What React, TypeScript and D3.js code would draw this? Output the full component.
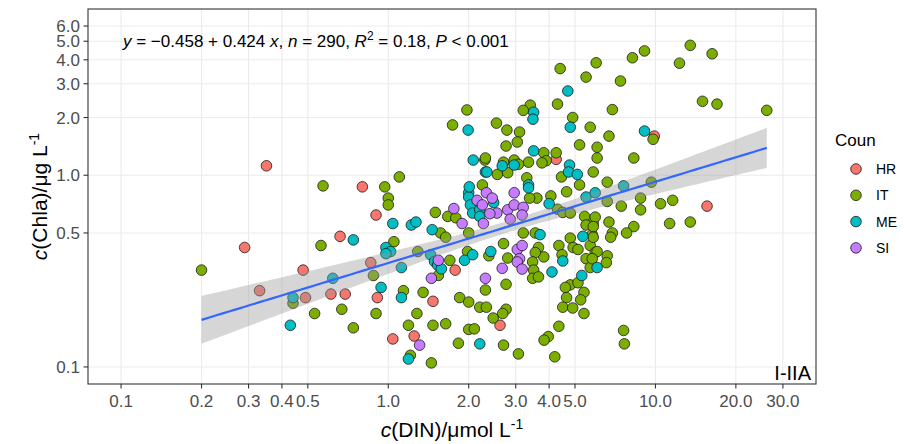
import React from 'react';
import * as d3 from 'd3';

// ---- data: [DIN (µmol/L), Chla (µg/L)] per country ----
const HR_PTS: [number, number][] = [
  [0.29, 0.42], [0.33, 0.25], [0.35, 1.12], [0.48, 0.32], [0.49, 0.23], [0.61, 0.24], [0.66, 0.48],
  [0.69, 0.24], [0.8, 0.87], [0.86, 0.35], [0.9, 0.62], [0.91, 0.23], [1.04, 0.14], [1.25, 0.145],
  [1.47, 0.22], [1.78, 0.32], [4.25, 1.21], [9.9, 1.6], [2.62, 0.165], [15.6, 0.69],
];
const IT_PTS: [number, number][] = [
  [0.2, 0.32], [0.44, 0.215], [0.53, 0.19], [0.57, 0.88], [0.56, 0.43], [0.67, 0.2], [0.74, 0.16],
  [0.9, 0.19], [0.88, 0.3], [0.97, 0.87], [1.0, 0.76], [1.0, 0.7], [1.05, 0.45], [1.1, 0.98],
  [1.14, 0.25], [1.19, 0.165], [1.21, 0.115], [1.45, 0.105], [1.5, 0.64], [1.57, 0.5], [1.64, 0.475],
  [1.67, 0.61], [1.79, 0.6], [2.0, 0.5], [1.29, 0.4], [1.7, 0.36], [1.54, 0.3], [1.98, 0.4],
  [1.35, 0.245], [1.28, 0.19], [1.47, 0.165], [1.64, 0.168], [1.85, 0.23], [2.0, 0.218], [2.2, 0.205],
  [2.33, 0.205], [2.31, 0.252], [2.0, 0.157], [2.1, 0.158], [1.83, 0.133], [1.97, 2.19], [1.74, 1.83],
  [2.3, 1.2], [2.25, 0.89],
  [6.0, 3.86], [4.4, 3.6], [5.5, 3.25], [4.3, 2.35], [3.4, 2.32], [3.2, 2.18], [4.9, 2.0], [5.7, 1.78],
  [2.54, 1.87], [2.78, 1.72], [3.1, 1.68], [3.04, 1.49], [2.76, 1.42], [5.2, 1.44], [6.05, 1.4],
  [3.82, 1.31], [4.25, 1.31], [3.9, 1.19], [3.76, 1.16], [2.31, 1.23], [3.35, 1.17], [2.7, 1.17],
  [2.96, 1.2], [3.07, 1.14], [2.56, 1.01], [2.8, 1.03], [4.45, 0.98], [6.05, 1.23], [5.85, 1.04],
  [3.3, 0.97], [5.2, 0.89], [4.65, 0.82], [4.06, 0.78], [3.6, 0.76], [3.38, 0.76],
  [13.5, 4.76], [16.3, 4.3], [9.1, 4.45], [8.2, 4.1], [12.3, 3.84], [7.4, 3.1], [15.0, 2.43],
  [17.0, 2.35], [26.1, 2.18], [6.9, 2.2], [6.7, 1.6], [9.8, 1.54], [8.3, 1.23], [6.6, 0.92],
  [9.65, 0.92], [8.8, 0.76], [11.6, 0.74],
  [4.3, 0.665], [4.5, 0.64], [4.8, 0.635], [5.43, 0.61], [5.85, 0.56], [5.5, 0.55], [3.2, 0.5],
  [3.55, 0.5], [2.7, 0.44], [2.38, 0.38], [3.65, 0.42], [3.82, 0.375], [3.55, 0.395], [4.35, 0.43],
  [4.8, 0.47], [4.92, 0.42], [5.13, 0.41], [5.7, 0.43], [5.8, 0.49], [4.47, 0.385], [5.95, 0.395],
  [5.5, 0.367], [5.7, 0.33], [2.8, 0.37], [3.47, 0.353], [3.5, 0.32], [3.47, 0.29], [3.65, 0.295],
  [2.76, 0.27], [4.8, 0.268], [4.6, 0.26], [5.13, 0.275], [5.4, 0.245], [5.25, 0.224], [4.65, 0.23],
  [4.5, 0.205], [4.9, 0.203], [5.4, 0.19], [2.76, 0.2], [2.68, 0.19], [2.47, 0.18], [4.35, 0.163],
  [3.97, 0.144], [3.83, 0.138], [2.7, 0.13], [3.07, 0.117], [4.2, 0.113],
  [6.6, 0.73], [7.45, 0.69], [8.8, 0.66], [10.45, 0.71], [5.95, 0.605], [5.85, 0.54], [6.7, 0.57],
  [5.85, 0.475], [6.9, 0.5], [6.8, 0.475], [8.3, 0.54], [7.8, 0.5], [11.3, 0.56], [13.5, 0.57],
  [6.05, 0.4], [6.6, 0.38], [6.55, 0.35], [5.8, 0.367], [7.6, 0.155], [7.65, 0.132],
];
const ME_PTS: [number, number][] = [
  [0.44, 0.23], [0.43, 0.165], [0.62, 0.29], [0.74, 0.46], [0.94, 0.26], [0.98, 0.42], [1.02, 0.4],
  [0.98, 0.39], [1.04, 0.56], [1.12, 0.33], [1.12, 0.23], [1.19, 0.11], [1.22, 0.55], [1.27, 0.57],
  [1.46, 0.52], [2.0, 0.81], [2.0, 0.77], [2.03, 0.7], [2.07, 0.635], [2.2, 0.66], [2.2, 0.61],
  [1.44, 0.385], [1.49, 0.355], [1.53, 0.34], [1.58, 0.325], [1.93, 0.36], [2.07, 0.385], [2.2, 0.132],
  [1.99, 1.72], [2.08, 1.2], [2.31, 1.04], [2.01, 0.87],
  [4.7, 2.75], [3.5, 2.13], [3.48, 1.96], [4.8, 1.78], [3.5, 1.34], [2.67, 1.12], [2.96, 1.13],
  [2.34, 1.04], [4.77, 1.13], [4.73, 1.04], [5.1, 1.01], [3.35, 0.89], [3.35, 0.86], [5.5, 0.77],
  [5.95, 0.81], [9.1, 1.7], [7.6, 0.88], [2.48, 0.72], [4.0, 0.71], [3.7, 0.49], [2.42, 0.4],
  [5.35, 0.48], [4.5, 0.357], [4.1, 0.313], [6.05, 0.33], [5.3, 0.3],
];
const SI_PTS: [number, number][] = [
  [1.31, 0.13], [1.76, 0.67], [1.89, 0.56], [2.15, 0.74], [2.25, 0.7], [2.27, 0.56], [1.54, 0.36],
  [1.45, 0.29], [2.31, 0.29], [2.33, 0.81], [2.45, 0.76], [2.96, 0.81], [2.55, 0.635], [2.4, 0.63],
  [2.8, 0.66], [2.96, 0.7], [3.2, 0.68], [3.17, 0.62], [2.86, 0.59], [3.04, 0.41], [3.17, 0.43],
  [3.1, 0.367], [3.04, 0.353], [3.17, 0.324], [2.67, 0.327],
];

const COUNTRIES = ['HR', 'IT', 'ME', 'SI'];
const COLORS = ['#F8766D', '#7CAE00', '#00BFC4', '#C77CFF'];
const SERIES = [HR_PTS, IT_PTS, ME_PTS, SI_PTS];

const X_TICKS = [0.1, 0.2, 0.3, 0.4, 0.5, 1, 2, 3, 4, 5, 10, 20, 30];
const Y_TICKS = [0.1, 0.5, 1, 2, 3, 4, 5, 6];
const X_LIMITS = [0.1, 30];
const Y_LIMITS = [0.1, 6];

// regression in log10 space
const FIT_INTERCEPT = -0.458;
const FIT_SLOPE = 0.424;
const FIT_N = 290;
const FIT_R2 = 0.18;
// 95% CI half-width (log10 units): sqrt(CI_A^2 + CI_B^2 (logx - CI_XMEAN)^2)
const CI_XMEAN = 0.46;
const CI_A = 0.03;
const CI_B = 0.1045;

const FONT = "'Liberation Sans', Arial, Helvetica, sans-serif";

function expandLog(lim: number[], f = 0.05) {
  const a = Math.log10(lim[0]);
  const b = Math.log10(lim[1]);
  const e = (b - a) * f;
  return [Math.pow(10, a - e), Math.pow(10, b + e)];
}

export default function App() {
  React.useEffect(() => {
    document.body.style.margin = '0';
  }, []);
  const W = 904;
  const H = 444;
  const L = 88, R = 816, T = 9, B = 384;
  const x = d3.scaleLog().domain(expandLog(X_LIMITS)).range([L, R]);
  const y = d3.scaleLog().domain(expandLog(Y_LIMITS)).range([B, T]);
  const fmt = d3.format('.1f');

  const allX = SERIES.flat().map((p) => p[0]);
  const lx0 = Math.log10(d3.min(allX) as number);
  const lx1 = Math.log10(d3.max(allX) as number);
  const grid = d3.range(0, 81).map((i) => lx0 + ((lx1 - lx0) * i) / 80);
  const fitRows = grid.map((lx) => {
    const ly = FIT_INTERCEPT + FIT_SLOPE * lx;
    const hw = Math.sqrt(CI_A * CI_A + CI_B * CI_B * (lx - CI_XMEAN) * (lx - CI_XMEAN));
    return { x: Math.pow(10, lx), y: Math.pow(10, ly), lo: Math.pow(10, ly - hw), hi: Math.pow(10, ly + hw) };
  });
  const area = d3
    .area<any>()
    .x((d) => x(d.x))
    .y0((d) => y(d.lo))
    .y1((d) => y(d.hi));
  const line = d3
    .line<any>()
    .x((d) => x(d.x))
    .y((d) => y(d.y));

  const legendY0 = 169;
  const legendStep = 26.3;

  return (
    <svg width={W} height={H} style={{ display: 'block', background: '#fff' }} fontFamily={FONT}>
      <rect x={0} y={0} width={W} height={H} fill="#fff" />
      {/* grid */}
      {X_TICKS.map((t) => (
        <line key={'gx' + t} x1={x(t)} x2={x(t)} y1={T} y2={B} stroke="#EBEBEB" strokeWidth={1.1} />
      ))}
      {Y_TICKS.map((t) => (
        <line key={'gy' + t} x1={L} x2={R} y1={y(t)} y2={y(t)} stroke="#EBEBEB" strokeWidth={1.1} />
      ))}
      {/* points */}
      {SERIES.map((pts, si) =>
        pts.map((p, i) => (
          <circle
            key={si + '-' + i}
            cx={x(p[0])}
            cy={y(p[1])}
            r={5.3}
            fill={COLORS[si]}
            stroke="#1a1a1a"
            strokeWidth={0.8}
          />
        ))
      )}
      {/* ribbon + line */}
      <path d={area(fitRows) || ''} fill="#999999" fillOpacity={0.4} stroke="none" />
      <path d={line(fitRows) || ''} fill="none" stroke="#3366FF" strokeWidth={2.2} />
      {/* border */}
      <rect x={L} y={T} width={R - L} height={B - T} fill="none" stroke="#333333" strokeWidth={1.1} />
      {/* x axis ticks */}
      {X_TICKS.map((t) => (
        <g key={'xt' + t}>
          <line x1={x(t)} x2={x(t)} y1={B} y2={B + 4.5} stroke="#333333" strokeWidth={1.1} />
          <text x={x(t)} y={407} textAnchor="middle" fontSize={17} fill="#4D4D4D">
            {fmt(t)}
          </text>
        </g>
      ))}
      {Y_TICKS.map((t) => (
        <g key={'yt' + t}>
          <line x1={L - 4.5} x2={L} y1={y(t)} y2={y(t)} stroke="#333333" strokeWidth={1.1} />
          <text x={80} y={y(t) + 6} textAnchor="end" fontSize={17} fill="#4D4D4D">
            {fmt(t)}
          </text>
        </g>
      ))}
      {/* axis titles */}
      <text x={(L + R) / 2} y={437} textAnchor="middle" fontSize={21} fill="#000">
        <tspan fontStyle="italic">c</tspan>
        <tspan>(DIN)/μmol L</tspan>
        <tspan dy={-8} fontSize={14}>-1</tspan>
      </text>
      <text
        transform={`translate(47,${(T + B) / 2}) rotate(-90)`}
        textAnchor="middle"
        fontSize={21}
        fill="#000"
      >
        <tspan fontStyle="italic">c</tspan>
        <tspan>(Chla)/μg L</tspan>
        <tspan dy={-8} fontSize={14}>-1</tspan>
      </text>
      {/* equation */}
      <text x={123} y={47} fontSize={17} fill="#000">
        <tspan fontStyle="italic">y</tspan>
        <tspan>{` = \u2212${Math.abs(FIT_INTERCEPT).toFixed(3)} + ${FIT_SLOPE.toFixed(3)} `}</tspan>
        <tspan fontStyle="italic">x</tspan>
        <tspan>{', '}</tspan>
        <tspan fontStyle="italic">n</tspan>
        <tspan>{` = ${FIT_N}, `}</tspan>
        <tspan fontStyle="italic">R</tspan>
        <tspan dy={-7} fontSize={12}>2</tspan>
        <tspan dy={7}>{` = ${FIT_R2.toFixed(2)}, `}</tspan>
        <tspan fontStyle="italic">P</tspan>
        <tspan>{' < 0.001'}</tspan>
      </text>
      {/* panel tag */}
      <text x={811} y={380} textAnchor="end" fontSize={20} fill="#000">
        I-IIA
      </text>
      {/* legend */}
      <text x={835} y={146} fontSize={17} fill="#000">
        Coun
      </text>
      {COUNTRIES.map((c, i) => (
        <g key={'lg' + c}>
          <circle
            cx={856}
            cy={legendY0 + i * legendStep}
            r={5.3}
            fill={COLORS[i]}
            stroke="#1a1a1a"
            strokeWidth={0.8}
          />
          <text x={876} y={legendY0 + i * legendStep + 5} fontSize={14} fill="#000">
            {c}
          </text>
        </g>
      ))}
    </svg>
  );
}
